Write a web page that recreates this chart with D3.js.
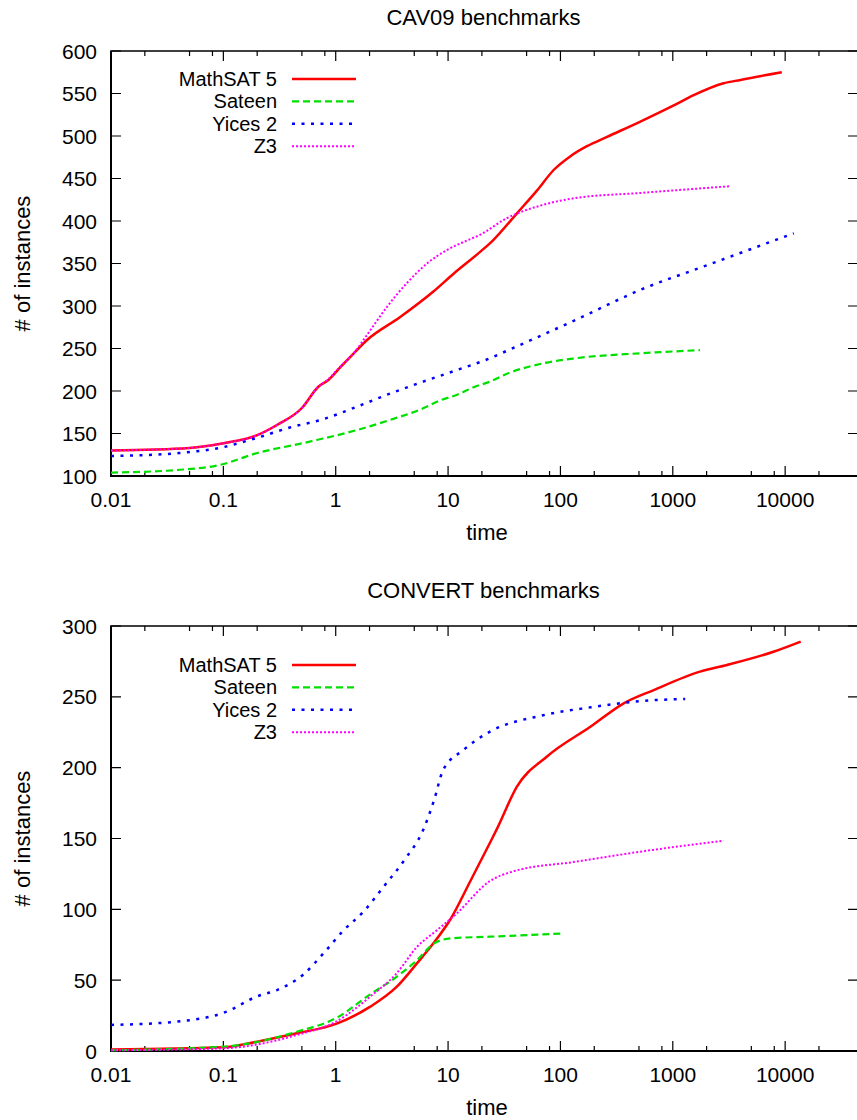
<!DOCTYPE html>
<html>
  <head>
    <meta charset="utf-8" />
    <script src="https://d3js.org/d3.v7.min.js"></script>
    <title>Benchmarks</title>
    <style>
      body { margin: 0; background: #fff; }
      text { font-family: "Liberation Sans", Arial, sans-serif; fill: #000; }
    </style>
  </head>
  <body>
    <svg id="chart" width="857" height="1120"></svg>
    <script>
      // solver names + styles for the key
      var solvers = ["MathSAT 5", "Sateen", "Yices 2", "Z3"];
      var colors = ["#ff0000", "#00e000", "#0000ff", "#ff00ff"];
      var dashes = [null, "7,4", "3,6.5", "2,2"];
      var widths = [2.5, 2.2, 2.5, 2];

      var xTicks = [0.01, 0.1, 1, 10, 100, 1000, 10000];

      // CAV09 benchmarks: [time, # of instances]
      var cavMathsat = [[0.01,130],[0.05,133],[0.1,138.5],[0.2,148],[0.3,160],[0.5,180],[0.7,205],[0.86,213],[1.1,228],[1.44,244],[1.9,260],[3.75,287],[7.4,317],[11.2,338],[19.4,364],[25,377],[41,409],[62,436],[87,460],[122,476],[172,488],[260,499],[515,517],[1020,536],[1535,548],[2830,562],[4000,566],[9340,575]];
      var cavSateen = [[0.01,104],[0.038,107],[0.093,113],[0.197,126.7],[0.586,140.4],[1.54,154],[3.05,166],[6,179.6],[8.5,189],[11.9,195.3],[17.3,205],[23.6,211],[33,220],[70,232.5],[136,238.5],[515,244.4],[1745,248]];
      var cavYices = [[0.01,123.5],[0.04,127],[0.1,134],[0.2,145],[0.39,157],[0.78,167],[1.54,181.5],[3.05,197],[6,211],[11.9,224.5],[23.6,238.5],[33,247],[136,283.5],[515,319],[2020,348],[11940,385.5]];
      var cavZ3 = [[0.01,130],[0.05,133],[0.1,138.5],[0.2,148],[0.3,160],[0.5,180],[0.7,205],[0.86,214],[1.1,229],[1.5,247],[1.9,266],[2.86,299],[4.3,327],[6.5,350],[9.8,366],[14.7,377],[19.4,384],[33,403],[70,419],[136,427],[515,433],[3240,441]];

      // CONVERT benchmarks
      var convMathsat = [[0.01,1],[0.1,2.6],[0.2,6.6],[0.45,12.5],[1.02,19.3],[2.03,31.3],[3.5,45.4],[5.3,62],[7.4,76],[10.5,93],[15.8,120],[23.6,147],[27.3,157],[41,186.6],[75.5,207.7],[186,229],[366,245.4],[677,254.8],[1745,267.8],[3040,272.5],[7980,282],[13760,289]];
      var convSateen = [[0.01,0.5],[0.1,3.1],[0.45,13.6],[1.02,23.5],[2.03,40],[3.5,52.5],[5.3,64.2],[7.5,76],[10.5,79.5],[23.6,80.7],[33,81.2],[107,83]];
      var convYices = [[0.01,18.4],[0.038,20.7],[0.107,27.8],[0.197,38.4],[0.3,43],[0.51,53.7],[0.78,69],[1.17,85],[1.75,98],[2.67,116],[4.1,135],[6,156],[7.5,177],[9,198],[13.7,212.5],[23.6,225.4],[70,237],[186,242.6],[515,247],[1290,248.5]];
      var convZ3 = [[0.01,0.5],[0.1,1.9],[0.45,11.3],[1.02,21],[2.03,38.4],[3.5,55],[5.3,73.6],[8,85.4],[11.9,97],[23.6,120],[37.3,126.6],[136,133.6],[515,140.7],[2830,148.5]];

      var svg = d3.select("#chart");

      var left = 111, right = 858;

      function drawPanel(cfg) {
        var g = svg.append("g");

        var x = d3.scaleLog().domain([0.01, 44500]).range([left, right]);
        var y = d3.scaleLinear().domain(cfg.yDomain).range([cfg.bottom, cfg.top]);

        // minor ticks at 2,5,8 of each decade
        var minor = [];
        xTicks.forEach(function(t) {
          [2, 5, 8].forEach(function(m) { if (t * m < 44500) minor.push(t * m); });
        });

        g.selectAll(".xminor").data(minor).enter().append("path")
          .attr("d", function(d) {
            var px = x(d);
            return "M" + px + "," + cfg.bottom + "v-5M" + px + "," + cfg.top + "v5";
          })
          .attr("stroke", "#000").attr("stroke-width", 1.2);

        g.selectAll(".xmajor").data(xTicks).enter().append("path")
          .attr("d", function(d) {
            var px = x(d);
            return "M" + px + "," + cfg.bottom + "v-10M" + px + "," + cfg.top + "v10";
          })
          .attr("stroke", "#000").attr("stroke-width", 1.2);

        g.selectAll(".xlabel").data(xTicks).enter().append("text")
          .attr("x", function(d) { return x(d); })
          .attr("y", cfg.bottom + 31)
          .attr("text-anchor", "middle")
          .attr("font-size", 21)
          .text(function(d) { return d3.format("~g")(d); });

        var yTicks = d3.range(cfg.yDomain[0], cfg.yDomain[1] + 1, 50);

        g.selectAll(".ytick").data(yTicks).enter().append("path")
          .attr("d", function(d) {
            var py = y(d);
            return "M" + left + "," + py + "h10M" + right + "," + py + "h-10";
          })
          .attr("stroke", "#000").attr("stroke-width", 1.2);

        g.selectAll(".ylabel").data(yTicks).enter().append("text")
          .attr("x", 97)
          .attr("y", function(d) { return y(d) + 7.5; })
          .attr("text-anchor", "end")
          .attr("font-size", 21)
          .text(function(d) { return d; });

        // border
        g.append("rect")
          .attr("x", left).attr("y", cfg.top)
          .attr("width", right - left).attr("height", cfg.bottom - cfg.top)
          .attr("fill", "none").attr("stroke", "#000").attr("stroke-width", 1.5);
        g.append("path")
          .attr("d", "M" + left + "," + cfg.top + "V" + cfg.bottom + "H" + right)
          .attr("stroke", "#000").attr("stroke-width", 2).attr("fill", "none");

        var line = d3.line()
          .x(function(d) { return x(d[0]); })
          .y(function(d) { return y(d[1]); })
          .curve(d3.curveMonotoneX);

        cfg.series.forEach(function(s, i) {
          g.append("path")
            .datum(s)
            .attr("d", line)
            .attr("fill", "none")
            .attr("stroke", colors[i])
            .attr("stroke-width", widths[i])
            .attr("stroke-dasharray", dashes[i]);
        });

        // key
        var key = g.selectAll(".key").data(solvers).enter().append("g")
          .attr("transform", function(d, i) {
            return "translate(0," + (cfg.top + cfg.keyOffset + i * 22.4) + ")";
          });
        key.append("text")
          .attr("x", 277).attr("y", 7)
          .attr("text-anchor", "end")
          .attr("font-size", 20)
          .text(function(d) { return d; });
        key.append("path")
          .attr("d", "M292,0H356")
          .attr("fill", "none")
          .attr("stroke", function(d, i) { return colors[i]; })
          .attr("stroke-width", function(d, i) { return widths[i]; })
          .attr("stroke-dasharray", function(d, i) { return dashes[i]; });

        g.append("text")
          .attr("x", (left + right) / 2 - 1)
          .attr("y", cfg.titleY)
          .attr("text-anchor", "middle")
          .attr("font-size", 22)
          .text(cfg.title);

        g.append("text")
          .attr("x", 487)
          .attr("y", cfg.bottom + 64)
          .attr("text-anchor", "middle")
          .attr("font-size", 22)
          .text("time");

        g.append("text")
          .attr("transform", "translate(30," + ((cfg.top + cfg.bottom) / 2) + ") rotate(-90)")
          .attr("text-anchor", "middle")
          .attr("font-size", 22)
          .text("# of instances");
      }

      drawPanel({
        title: "CAV09 benchmarks", titleY: 25,
        top: 51, bottom: 476, yDomain: [100, 600], keyOffset: 28,
        series: [cavMathsat, cavSateen, cavYices, cavZ3]
      });

      drawPanel({
        title: "CONVERT benchmarks", titleY: 598,
        top: 626, bottom: 1051, yDomain: [0, 300], keyOffset: 39,
        series: [convMathsat, convSateen, convYices, convZ3]
      });
    </script>
  </body>
</html>
